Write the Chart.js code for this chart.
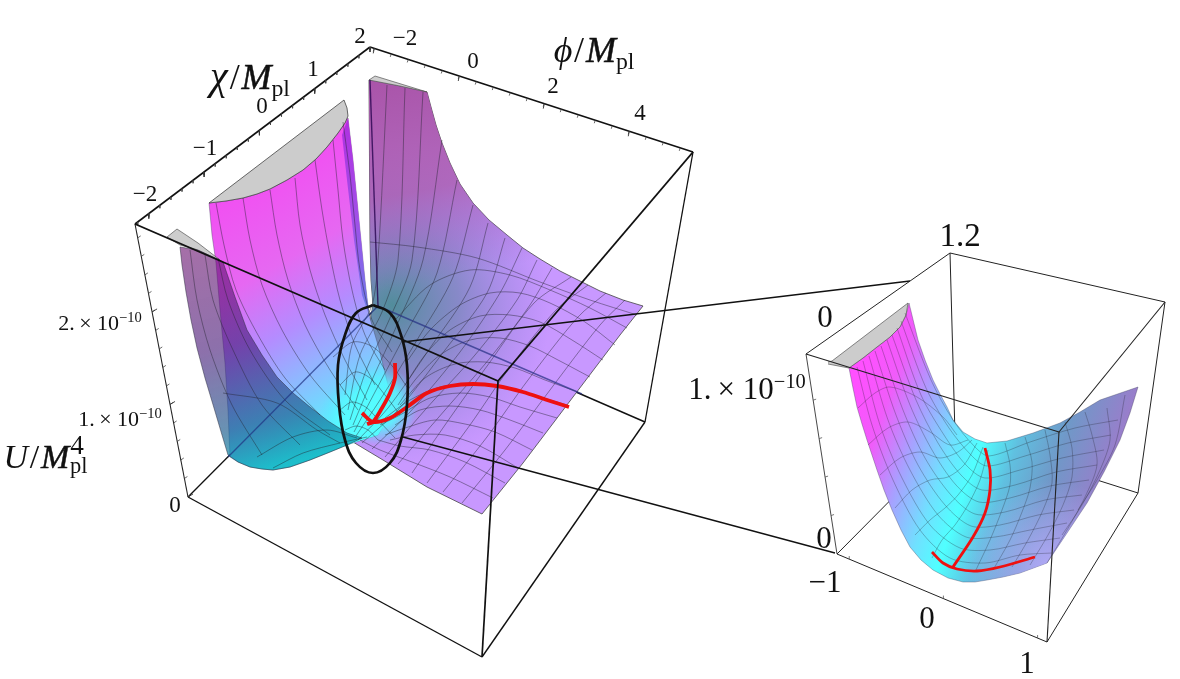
<!DOCTYPE html>
<html>
<head>
<meta charset="utf-8">
<title>U(phi, chi) surface</title>
<script src="https://cdn.jsdelivr.net/npm/chart.js@4"></script>
<style>
  html, body { margin: 0; background: #fff; }
  #wrap { position: relative; width: 1180px; height: 679px; overflow: hidden; }
  canvas { position: absolute; left: 0; top: 0; }
  .t { position: absolute; transform: translate(-50%, -50%); font-family: "Liberation Serif", serif; color: #111; white-space: nowrap; }
  .t sup { line-height: 0; font-size: 66%; }
  .m { font-style: italic; -webkit-text-stroke: 0.5px #111; }
  .stack { display: inline-block; vertical-align: middle; position: relative; width: 0.62em; height: 1em; }
  .stack b { position: absolute; left: 0.03em; font-weight: normal; line-height: 1; }
</style>
</head>
<body>
<div id="wrap"><canvas id="c" width="1180" height="679"></canvas></div>
<script>
// tick labels
const chiTickLabels = ["−2", "−1", "0", "1", "2"];
const phiTickLabels = ["−2", "0", "2", "4"];
const uTickLabels = ["0", "1.&thinsp;× 10<sup>−10</sup>", "2.&thinsp;× 10<sup>−10</sup>"];
const insetTickLabels = ["1.2", "0", "1.&thinsp;× 10<sup>−10</sup>", "0", "−1", "0", "1"];

// tick values along the axes of the big box
const chiMajor = [-2, -1, 0, 1, 2];
const phiMajor = [-2, 0, 2, 4];
const uMajor = [0, 1, 2];

// big box, picture coordinates
const boxA = [135, 224], boxB = [370, 47], boxC = [693, 152], boxD = [498, 381];
const boxE = [188, 497], boxF = [482, 657], boxG = [645, 422], boxH = [378, 306];

// inset box
const inA = [806, 354], inB = [950, 253], inC = [1165, 302], inD = [1059, 432];
const inE = [837, 554], inF = [1047, 642], inG = [1138, 493], inH = [955, 435];

// grey caps where the surface leaves the box
const capMid = [[209,203],[344,100],[347,108],[348,116],[345,123],[338,133],[327,147],[316,159],[303,170],[287,180],[270,189],[257,194],[243,198],[226,201],[209,203]];
const capBack = [[369,80],[375,76],[427,92],[400,86],[369,80]];
const capLeft = [[167,237],[177,229],[198,243],[220,260],[195,249],[180,245],[167,237]];
const capInset = [[828,362],[832,361],[908,303],[906,315],[900,327],[890,337],[877,347],[863,358],[849,368],[828,364]];

// outlines of the big surface
const backSheet = [[369,80],[427,92],[431,107],[436,125],[442,143],[450,163],[460,184],[473,203],[489,220],[507,235],[523,248],[540,259],[560,271],[580,281],[600,291],[623,300],[643,306],
  [620,335],[573,397],[523,463],[482,514],[427,487],[383,460],[353,442],[340,430],[360,380],[373,305],[371,280],[370,240],[369,80]];
const midWall = [[209,203],[226,201],[243,198],[257,194],[270,189],[287,180],[303,170],[316,159],[327,147],[338,133],[348,118],[353,160],[360,230],[365,280],[369,315],[378,345],[388,385],[390,415],[378,435],[362,440],[347,445],
  [330,452],[310,460],[290,467],[273,470],[262,469],[250,467],[238,462],[230,457],[228,410],[225,363],[220,310],[216,263],[212,235],[209,203]];
const midStrip = [[348,118],[353,160],[360,230],[365,280],[369,315],[362,295],[354,240],[347,180],[342,135],[348,118]];
const leftWall = [[180,247],[182,265],[186,292],[191,320],[197,348],[205,378],[214,408],[222,435],[228,455],[238,462],[250,467],[262,469],[273,470],[290,467],[310,460],[330,452],[347,445],[362,438],
  [347,433],[328,421],[310,407],[293,393],[277,377],[262,355],[247,330],[235,297],[223,262],[198,250],[180,247]];

// mesh, lines of constant chi on the big surface
const chiLines = [
  [[493,498],[450,477],[412,462],[380,450],[360,440]],
  [[505,483],[465,462],[430,450],[400,446],[378,440]],
  [[518,468],[480,446],[445,435],[415,435],[390,440]],
  [[532,450],[495,432],[465,424],[435,420],[405,428],[385,435]],
  [[543,433],[510,420],[480,410],[450,406],[420,410],[395,425]],
  [[557,418],[520,407],[490,397],[460,393],[430,398],[400,415],[380,425]],
  [[567,405],[530,394],[497,385],[470,384],[440,387],[410,400],[385,418]],
  [[578,392],[545,380],[515,368],[485,362],[455,364],[425,378],[400,405]],
  [[590,377],[558,360],[530,346],[500,338],[470,340],[440,355],[415,380],[398,405]],
  [[603,360],[572,340],[540,322],[510,315],[480,316],[450,330],[425,355],[405,385]],
  [[615,345],[585,322],[550,303],[520,293],[490,293],[460,305],[430,330],[408,360]],
  [[627,328],[590,308],[550,290],[510,275],[470,270],[430,285],[395,320]],
  [[637,315],[590,300],[540,282],[477,258],[417,247],[370,242]]
];

// mesh, lines of constant phi on the big surface
const phiLines = [
  [[625,300],[600,325],[550,390],[505,450],[462,503]],
  [[606,293],[578,317],[528,380],[487,437],[443,492]],
  [[588,285],[556,310],[508,370],[470,425],[427,483]],
  [[571,277],[534,303],[490,362],[452,415],[412,473]],
  [[552,268],[530,305],[490,358],[445,410],[398,464]],
  [[537,260],[517,300],[475,355],[425,410],[385,457]],
  [[522,248],[500,293],[460,352],[410,412],[372,449]],
  [[505,238],[487,293],[445,350],[398,410],[362,443]],
  [[488,223],[470,287],[430,348],[388,408],[358,440]],
  [[473,205],[453,277],[417,340],[380,400],[356,436]],
  [[457,180],[437,273],[405,335],[375,392],[354,432]],
  [[442,140],[423,260],[397,325],[372,380],[353,425]],
  [[423,92],[412,260],[390,318],[367,368],[350,420]],
  [[405,88],[398,260],[382,312],[360,355],[348,410]],
  [[387,85],[378,260],[372,305],[352,345],[345,395]]
];

// mesh on the middle wall and left wall
const wallLines = [
  [[216,203],[224,245],[236,290],[258,335],[285,378],[320,415]],
  [[243,198],[250,240],[262,285],[282,330],[310,375],[345,415]],
  [[270,190],[277,235],[288,280],[305,325],[330,370],[358,410]],
  [[295,178],[300,225],[310,270],[325,315],[345,360],[367,400]],
  [[315,160],[322,210],[330,255],[340,300],[355,345],[375,385]],
  [[333,140],[338,190],[343,240],[352,290],[365,335],[385,370]],
  [[343,122],[350,175],[355,225],[360,270],[372,320],[392,352]],
  [[190,250],[197,300],[210,350],[232,405],[262,455]],
  [[205,255],[213,300],[233,350],[262,405],[300,445]],
  [[218,258],[228,300],[250,350],[285,400],[330,435]]
];
const valleyArcs = [
  [[333,357],[353,342],[373,347],[393,367],[407,387]],
  [[340,385],[355,372],[370,378],[385,395],[400,415]],
  [[340,410],[352,402],[367,408],[380,422],[395,438]],
  [[345,430],[356,426],[368,430],[378,440]],
  [[257,457],[293,437],[327,430],[357,438]],
  [[273,468],[303,453],[340,443],[367,437]],
  [[223,393],[277,403],[317,430],[340,443]]
];

// red paths, big plot
const redValley = [[395,363],[395,378],[390,393],[382,408],[373,422],[367,424]];
const redRidge = [[362,413],[373,422],[390,418],[407,407],[427,393],[450,386],[473,384],[497,386],[523,392],[547,400],[569,407]];

// zoom ellipse and the two callout lines
const zoomRing = [[373,305],[390,313],[401,335],[407,365],[407,405],[401,440],[390,463],[373,473],[356,463],[345,440],[339,405],[338,365],[345,335],[356,313],[373,305]];
const calloutTop = [[403,342],[910,281]];
const calloutBottom = [[403,437],[835,553]];

// inset surface
const insetSheet = [[849,368],[853,388],[857,407],[862,424],[867,440],[872,455],[877,470],[884,490],[892,510],[901,530],[910,547],[921,560],[933,570],[948,578],[963,582],[975,582],[987,580],[1003,577],[1020,573],[1047,563],
  [1067,533],[1087,503],[1104,472],[1120,440],[1130,413],[1138,387],[1100,400],[1080,412],[1060,423],[1033,433],[1007,441],[987,443],[975,439],[963,432],[953,420],[947,407],[940,394],[933,380],[925,360],[918,340],[909,303],
  [906,315],[900,327],[890,337],[877,347],[863,358],[849,368]];
const insetPhiLines = [
  [[857,367],[872,425],[893,480],[920,530],[950,558],[985,563],[1020,555],[1052,553]],
  [[863,361],[880,425],[902,478],[930,525],[960,548],[990,550],[1025,543],[1060,538]],
  [[869,356],[888,420],[910,470],[938,515],[966,537],[995,537],[1030,530],[1067,523]],
  [[875,351],[896,415],[918,465],[945,505],[971,526],[1000,525],[1038,515],[1074,510]],
  [[881,346],[903,410],[925,458],[951,495],[975,514],[1005,512],[1045,500],[1082,495]],
  [[887,340],[910,405],[932,450],[956,485],[979,502],[1010,498],[1050,486],[1089,480]],
  [[892,335],[916,400],[938,443],[961,475],[982,490],[1015,485],[1056,472],[1097,465]],
  [[897,328],[921,395],[944,435],[966,465],[985,478],[1020,470],[1062,458],[1104,450]],
  [[901,321],[926,388],[949,428],[971,455],[987,466],[1025,456],[1068,443],[1111,435]],
  [[905,313],[931,380],[953,420],[975,447],[989,456],[1030,442],[1075,428],[1118,420]]
];
const insetChiLines = [
  [[858,408],[875,393],[890,387],[917,397],[943,417],[957,435]],
  [[868,445],[888,428],[908,422],[930,432],[950,445],[968,440]],
  [[880,475],[900,458],[920,452],[940,458],[958,452],[972,440]],
  [[895,508],[912,490],[930,480],[948,477],[964,465],[977,443]],
  [[915,535],[930,520],[945,508],[958,495],[972,475],[983,447]],
  [[932,558],[942,540],[955,525],[968,505],[980,480],[988,450]],
  [[975,572],[990,540],[1002,510],[1010,485],[1010,465],[1005,443]],
  [[993,570],[1010,540],[1022,512],[1030,488],[1032,462],[1025,437]],
  [[1012,567],[1028,540],[1043,510],[1052,483],[1050,455],[1045,430]],
  [[1030,565],[1048,535],[1063,505],[1072,477],[1072,448],[1065,422]],
  [[1047,563],[1067,530],[1085,497],[1097,465],[1092,435],[1085,412]],
  [[1062,535],[1082,505],[1100,470],[1110,440],[1107,408]],
  [[1078,510],[1097,480],[1115,445],[1125,395]]
];
const insetRedA = [[985,448],[990,470],[990,490],[985,513],[973,537],[953,567]];
const insetRedB = [[932,552],[943,563],[957,569],[977,571],[1000,567],[1035,557]];

const ctx = document.getElementById("c").getContext("2d");
const layers = [];

function linear(x0, y0, x1, y1, stops) {
  const g = ctx.createLinearGradient(x0, y0, x1, y1);
  stops.forEach(s => g.addColorStop(s[0], s[1]));
  return g;
}
function radial(x, y, r, stops) {
  const g = ctx.createRadialGradient(x, y, 0, x, y, r);
  stops.forEach(s => g.addColorStop(s[0], s[1]));
  return g;
}
function toPoints(list) {
  return list.map(p => p ? { x: p[0], y: p[1] } : { x: NaN, y: NaN });
}
function addLine(list, color, width, tension) {
  layers.push({
    data: toPoints(list), showLine: true, fill: false, pointRadius: 0,
    borderColor: color, borderWidth: width, tension: tension || 0, clip: false
  });
}
function addFill(list, style, edge, width) {
  layers.push({
    data: toPoints(list), showLine: true, fill: "shape", pointRadius: 0,
    backgroundColor: style, borderColor: edge || "rgba(0,0,0,0)", borderWidth: width || 0, tension: 0, clip: false
  });
}
// small tick marks along a box edge
function edgeTicks(p0, p1, v0, v1, values, dx, dy) {
  const out = [];
  values.forEach(v => {
    const f = (v - v0) / (v1 - v0);
    const x = p0[0] + (p1[0] - p0[0]) * f;
    const y = p0[1] + (p1[1] - p0[1]) * f;
    out.push([x, y], [x + dx, y + dy], null);
  });
  return out;
}
function minorValues(from, to, step) {
  const out = [];
  for (let v = from; v <= to + 1e-9; v += step) out.push(v);
  return out;
}

const MESH = "rgba(35,35,45,0.55)";
const MESH_INSET = "rgba(35,35,45,0.42)";

// --- back box edges (white part)
addLine([boxA, boxB], "#111", 1.6);
addLine([boxB, boxC], "#111", 1.6);
addLine([boxC, boxG], "#111", 1.3);
addLine([boxE, boxA], "#222", 1.1);
addLine([boxE, boxF], "#111", 1.4);
addLine([boxF, boxG], "#111", 1.4);
addLine([boxE, boxH], "#111", 1.3);
addLine([boxH, boxG], "#111", 1.4);
addLine(edgeTicks(boxA, boxB, -2.25, 2, minorValues(-2.2, 2, 0.2), 0, 3), "#444", 0.8);
addLine(edgeTicks(boxB, boxC, -2.1, 5.5, minorValues(-2, 5.4, 0.4), -1, 3), "#444", 0.8);
addLine(edgeTicks(boxE, boxA, 0, 2.95, minorValues(0, 2.8, 0.2), 3, -2), "#444", 0.8);
addLine(edgeTicks(boxA, boxB, -2.25, 2, chiMajor, 0, 5), "#333", 0.9);
addLine(edgeTicks(boxB, boxC, -2.1, 5.5, phiMajor, -1, 5), "#333", 0.9);
addLine(edgeTicks(boxE, boxA, 0, 2.95, uMajor, 5, -3), "#333", 0.9);

// --- big surface fills
addFill(backSheet, "#c898ff", "#444", 0.8);
addFill(backSheet, radial(392, 305, 160, [[0, "rgba(75,140,150,0.95)"], [0.42, "rgba(105,130,175,0.68)"], [1, "rgba(140,120,220,0)"]]));
addFill(backSheet, linear(400, 80, 440, 280, [[0, "rgba(170,85,170,1)"], [0.55, "rgba(170,90,170,0.75)"], [1, "rgba(150,100,190,0)"]]));
addFill(capBack, "#cfcfcf", "#555", 0.7);

addFill(midWall, linear(235, 185, 375, 430, [[0, "#f24ef2"], [0.32, "#e668f2"], [0.54, "#b48cff"], [0.74, "#88c0ff"], [0.92, "#5cf0ff"], [1, "#55ffff"]]), "rgba(60,60,90,0.6)", 0.6);
addFill(midStrip, linear(345, 120, 365, 320, [[0, "#b030e0"], [0.5, "#a050e8"], [1, "rgba(90,120,230,0.8)"]]));
addFill(capMid, "#cccccc", "#444", 0.8);

// cyan glow in the valley, spills onto the back sheet
addFill(backSheet, radial(378, 405, 40, [[0, "rgba(85,255,255,1)"], [0.55, "rgba(85,250,255,0.85)"], [1, "rgba(85,230,255,0)"]]));
addFill(midWall, radial(365, 420, 46, [[0, "rgba(85,255,255,1)"], [0.6, "rgba(85,250,255,0.8)"], [1, "rgba(85,230,255,0)"]]));

addFill(capLeft, "#cdcdcd", "#555", 0.7);
addFill(leftWall, linear(200, 245, 260, 470, [[0, "rgba(105,15,110,0.6)"], [0.45, "rgba(70,25,120,0.62)"], [0.8, "rgba(25,90,140,0.66)"], [1, "rgba(15,175,190,0.8)"]]), "rgba(40,40,60,0.7)", 0.7);

// --- big mesh
chiLines.forEach(l => addLine(l, MESH, 0.8, 0.3));
phiLines.forEach(l => addLine(l, MESH, 0.8, 0.3));
wallLines.forEach(l => addLine(l, MESH, 0.8, 0.3));
valleyArcs.forEach(l => addLine(l, MESH, 0.8, 0.3));

// box edges showing through the sheet
addLine([[228,457], boxH], "rgba(30,50,130,0.7)", 1.3);
addLine([boxH, [582,394]], "rgba(35,45,130,0.7)", 1.4);
addLine([[370,80], boxH], "rgba(40,5,80,0.8)", 1.4);

// --- red paths
addLine(redValley, "#ee1010", 3.8, 0.3);
addLine(redRidge, "#ee1010", 3.8, 0.3);

// --- front box edges
addLine([boxA, boxD], "#111", 1.9);
addLine([boxD, boxC], "#111", 1.9);
addLine([boxD, boxF], "#111", 1.7);

// --- ring and callouts
addLine(zoomRing, "#111", 2.7, 0.4);
addLine(calloutTop, "#111", 1.3);
addLine(calloutBottom, "#111", 1.3);

// --- inset
addLine([inA, inB], "#222", 1);
addLine([inB, inC], "#222", 1);
addLine([inC, inG], "#222", 1);
addLine([inA, inE], "#333", 0.9);
addLine([inE, inF], "#222", 1);
addLine([inF, inG], "#222", 1);
addLine([inE, inH], "#222", 1);
addLine([inH, inG], "#222", 1);
addLine([inB, inH], "#222", 1);
addLine(edgeTicks(inE, inF, -1.13, 1.1, [-1, 0, 1], 0, -3), "#555", 0.8);
addLine(edgeTicks(inE, inA, 0, 1.3, [0.25, 0.5, 0.75, 1], 3, -1), "#555", 0.8);

addFill(insetSheet, linear(865, 360, 1135, 455, [[0, "#ff50ff"], [0.12, "#f05cfa"], [0.25, "#a8a0ff"], [0.38, "#70e0ff"], [0.48, "#50ffff"], [0.6, "#60c0e0"], [0.75, "#7098c8"], [1, "#a874cc"]]), "rgba(60,60,90,0.6)", 0.6);
addFill(insetSheet, radial(1050, 570, 90, [[0, "rgba(185,175,255,0.85)"], [1, "rgba(185,175,255,0)"]]));
addFill(capInset, "#cccccc", "#555", 0.7);
insetPhiLines.forEach(l => addLine(l, MESH_INSET, 0.7, 0.3));
insetChiLines.forEach(l => addLine(l, MESH_INSET, 0.7, 0.3));
addLine(insetRedA, "#ee1010", 2.8, 0.3);
addLine(insetRedB, "#ee1010", 2.8, 0.3);
addLine([inA, inD], "#222", 1.1);
addLine([inD, inC], "#222", 1.1);
addLine([inD, inF], "#222", 1.1);

new Chart(ctx, {
  type: "scatter",
  data: { datasets: layers.reverse() },
  options: {
    responsive: false,
    animation: false,
    layout: { padding: 0 },
    events: [],
    plugins: { legend: { display: false }, tooltip: { enabled: false } },
    scales: {
      x: { type: "linear", min: 0, max: 1180, display: false },
      y: { type: "linear", min: 0, max: 679, reverse: true, display: false }
    }
  }
});

// text
const wrap = document.getElementById("wrap");
function place(html, x, y, size) {
  const el = document.createElement("div");
  el.className = "t";
  el.style.left = x + "px";
  el.style.top = y + "px";
  el.style.fontSize = size + "px";
  el.innerHTML = html;
  wrap.appendChild(el);
}
const chiPos = [[145,194],[205,148],[262,106],[313,69],[360,36]];
chiTickLabels.forEach((s, i) => place(s, chiPos[i][0], chiPos[i][1], 23));
const phiPos = [[405,38],[473,61],[553,86],[640,113]];
phiTickLabels.forEach((s, i) => place(s, phiPos[i][0], phiPos[i][1], 23));
const uPos = [[175,505],[120,419],[100,323]];
uTickLabels.forEach((s, i) => place(s, uPos[i][0], uPos[i][1], i ? 22 : 23));
const insetPos = [[960,235],[825,317],[747,389],[824,538],[825,582],[927,618],[1027,663]];
const insetSize = [33, 31, 31, 31, 31, 31, 31];
insetTickLabels.forEach((s, i) => place(s, insetPos[i][0], insetPos[i][1], insetSize[i]));

const SLASH = '<span style="margin:0 0.05em">/</span>';
const MPL = '<span class="m">M</span><span style="font-size:66%;position:relative;top:0.3em">pl</span>';
place('<i style="font-size:112%">χ</i>' + SLASH + MPL, 250, 75, 36);
place('<i>ϕ</i>' + SLASH + MPL, 594, 50, 36);
place('<i>U</i>' + SLASH + '<span class="m">M</span><span class="stack"><b style="top:-0.42em;font-size:80%">4</b><b style="top:0.52em;font-size:66%">pl</b></span>', 47, 458, 34);
</script>
</body>
</html>
